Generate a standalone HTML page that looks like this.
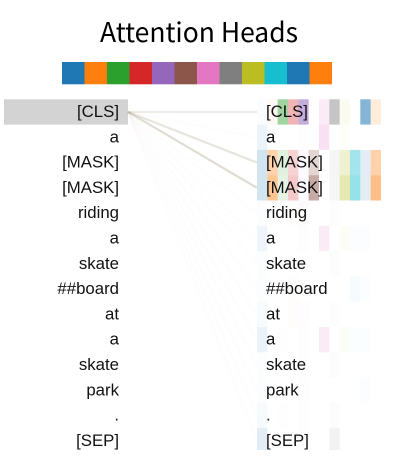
<!DOCTYPE html>
<html>
<head>
<meta charset="utf-8">
<title>Attention Heads</title>
<style>
html,body{margin:0;padding:0;background:#fff;width:406px;height:462px;overflow:hidden}
svg{display:block}
text{font-family:"Liberation Sans",sans-serif;font-size:16.8px;fill:#111}
</style>
</head>
<body>
<svg id="chart" width="406" height="462" viewBox="0 0 406 462" xmlns="http://www.w3.org/2000/svg">
<text x="100" y="42" textLength="198" lengthAdjust="spacingAndGlyphs" style="font-family:'Noto Sans CJK JP',sans-serif;font-size:27px;fill:#000">Attention Heads</text>
</svg>
<script>
var tokens = ["[CLS]","a","[MASK]","[MASK]","riding","a","skate","##board","at","a","skate","park",".","[SEP]"];
var headColors = ["#1f77b4","#ff7f0e","#2ca02c","#d62728","#9467bd","#8c564b","#e377c2","#7f7f7f","#bcbd22","#17becf","#1f77b4","#ff7f0e"];
var linkWeights = [0.2,0.02,0.26,0.34,0.02,0.02,0.02,0.015,0.015,0.015,0.015,0.015,0.015,0.025];
var h00 = [0.02,0.08,0.20,0.20,0.01,0.07,0.01,0.01,0.03,0.09,0.01,0.01,0.04,0.13];
var h01 = [0.05,0.00,0.35,0.45,0.00,0.00,0.00,0.00,0.00,0.00,0.00,0.00,0.00,0.00];
var h02 = [0.45,0.00,0.15,0.12,0.00,0.00,0.00,0.00,0.00,0.01,0.00,0.00,0.01,0.00];
var h03 = [0.35,0.00,0.20,0.25,0.01,0.00,0.00,0.01,0.01,0.00,0.00,0.00,0.00,0.00];
var h04 = [0.55,0.01,0.03,0.02,0.03,0.01,0.00,0.00,0.02,0.01,0.01,0.02,0.01,0.01];
var h05 = [0.00,0.00,0.25,0.50,0.00,0.00,0.00,0.00,0.00,0.00,0.00,0.00,0.00,0.00];
var h06 = [0.15,0.22,0.00,0.00,0.00,0.15,0.00,0.00,0.00,0.15,0.00,0.00,0.00,0.00];
var h07 = [0.45,0.00,0.08,0.07,0.01,0.00,0.02,0.00,0.01,0.00,0.02,0.00,0.02,0.10];
var h08 = [0.06,0.02,0.22,0.35,0.00,0.03,0.00,0.00,0.00,0.03,0.00,0.00,0.00,0.00];
var h09 = [0.00,0.00,0.40,0.45,0.00,0.01,0.00,0.04,0.00,0.02,0.00,0.00,0.00,0.00];
var h10 = [0.55,0.00,0.13,0.13,0.00,0.01,0.00,0.01,0.00,0.01,0.00,0.01,0.00,0.00];
var h11 = [0.15,0.00,0.35,0.50,0.00,0.00,0.00,0.00,0.00,0.00,0.00,0.00,0.00,0.00];
var headValues = [h00,h01,h02,h03,h04,h05,h06,h07,h08,h09,h10,h11];
var selectedToken = 0;

var NS = "http://www.w3.org/2000/svg";
var svg = document.getElementById("chart");
var top0 = 99.3, rowH = 25.3, cellX0 = 257, cellW = 10.33, bottom = 450;
function rowTop(i){ return top0 + i * rowH; }
function rowMid(i){ return rowTop(i) + rowH / 2; }
function rowHeight(i){ return Math.min(rowH, bottom - rowTop(i)); }
function cellX(h){ return cellX0 + h * cellW; }
function mk(tag, attrs){
  var el = document.createElementNS(NS, tag);
  for (var k in attrs) el.setAttribute(k, attrs[k]);
  svg.appendChild(el);
  return el;
}

headColors.forEach(function(c, h){
  var el = mk("rect", {x: 62 + h * 22.5, y: 62, width: 22.5, height: 22.3, fill: c});
  
  
});

var sel = mk("rect", {x: 4, y: rowTop(selectedToken), width: 124, height: rowH, fill: "#d3d3d3"});



headValues.forEach(function(vals, h){
  vals.forEach(function(v, r){
    if (v <= 0) return;
    var el = mk("rect", {x: cellX(h), y: rowTop(r), width: cellW, height: rowHeight(r), fill: headColors[h], "fill-opacity": v});
    
    
  });
});

linkWeights.forEach(function(w, r){
  var el = mk("line", {x1: 128, y1: rowMid(selectedToken), x2: 257, y2: rowMid(r), stroke: "#a89c80", "stroke-width": 2.2, "stroke-opacity": w});
  
  
});

tokens.forEach(function(t, r){
  var a = mk("text", {x: 119, y: rowMid(r) + 5, "text-anchor": "end"});
  a.textContent = t;
  
  
  var b = mk("text", {x: 266, y: rowMid(r) + 5});
  b.textContent = t;
  
  
});
</script>
</body>
</html>
